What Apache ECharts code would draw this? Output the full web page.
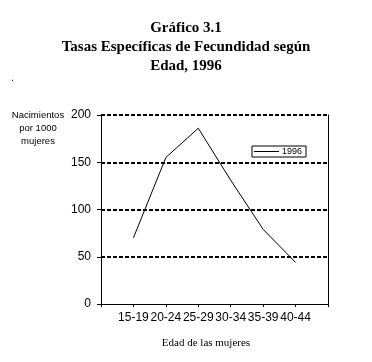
<!DOCTYPE html>
<html>
<head>
<meta charset="utf-8">
<script src="https://cdn.jsdelivr.net/npm/echarts@6/dist/echarts.min.js"></script>
<style>html,body{margin:0;padding:0;background:#fff}#c{width:372px;height:362px}</style>
</head>
<body>
<div id="c"></div>
<script>
var categories = ['15-19', '20-24', '25-29', '30-34', '35-39', '40-44'];
var values1996 = [70, 155, 186, 131, 79, 44];
var yTicks = [0, 50, 100, 150, 200];
var seriesName = '1996';

var axisCats = [''].concat(categories, ['']);
var axisVals = [null].concat(values1996, [null]);

var chart = echarts.init(document.getElementById('c'), null, {renderer: 'canvas'});
chart.setOption({
  animation: false,
  backgroundColor: '#fff',
  title: {
    text: 'Gráfico 3.1\nTasas Específicas de Fecundidad según\nEdad, 1996',
    left: 'center',
    top: 14,
    textStyle: {fontFamily: 'Liberation Serif', fontWeight: 'bold', fontSize: 15, lineHeight: 19, color: '#000'}
  },
  graphic: [{type: 'text', left: 11, top: 73, style: {text: '.', fill: '#000', font: '10px Liberation Sans'}}],
  legend: {
    data: [{name: seriesName, icon: 'rect'}],
    left: 252, top: 146,
    orient: 'horizontal',
    padding: [1, 4, 1, 2],
    itemWidth: 25, itemHeight: 1, itemGap: 0,
    borderColor: '#000', borderWidth: 1, borderRadius: 0,
    backgroundColor: '#fff',
    textStyle: {fontFamily: 'Liberation Sans', fontSize: 9, color: '#000', padding: [0, 0, 0, -2]}
  },
  grid: {left: 101, right: 44, top: 115, bottom: 58, containLabel: false},
  xAxis: {
    type: 'category',
    data: axisCats,
    boundaryGap: false,
    name: 'Edad de las mujeres',
    nameLocation: 'middle',
    nameGap: 34,
    nameTextStyle: {fontFamily: 'Liberation Serif', fontSize: 11, color: '#000', padding: [0, 17, 0, 0]},
    axisLine: {show: true, lineStyle: {color: '#000', width: 1}},
    axisTick: {show: true, interval: 0, length: 3, lineStyle: {color: '#000'}},
    axisLabel: {interval: 0, margin: 8, fontFamily: 'Liberation Sans', fontSize: 12, color: '#000'},
    splitLine: {show: false}
  },
  yAxis: [{
    type: 'value',
    min: yTicks[0], max: yTicks[yTicks.length - 1], interval: 50,
    name: 'Nacimientos\npor 1000\nmujeres',
    nameLocation: 'end',
    nameGap: -33,
    nameMoveOverlap: false,
    nameTextStyle: {fontFamily: 'Liberation Sans', fontSize: 9.5, lineHeight: 13, color: '#000', align: 'center', verticalAlign: 'bottom', padding: [0, 126, 0, 0]},
    axisLine: {show: true, onZero: false, lineStyle: {color: '#000', width: 1}},
    axisTick: {show: true, length: 4, lineStyle: {color: '#000'}},
    axisLabel: {margin: 10, fontFamily: 'Liberation Sans', fontSize: 12, color: '#000'},
    splitLine: {show: true, showMinLine: false, lineStyle: {color: '#000', width: 2, type: [4, 2]}}
  }, {
    type: 'value',
    position: 'right',
    min: yTicks[0], max: yTicks[yTicks.length - 1], interval: 50,
    axisLine: {show: true, onZero: false, lineStyle: {color: '#000', width: 1}},
    axisTick: {show: false},
    axisLabel: {show: false},
    splitLine: {show: false}
  }],
  series: [{
    name: seriesName,
    type: 'line',
    data: axisVals,
    symbol: 'none',
    lineStyle: {color: '#000', width: 1},
    itemStyle: {color: '#000'}
  }]
});
</script>
</body>
</html>
